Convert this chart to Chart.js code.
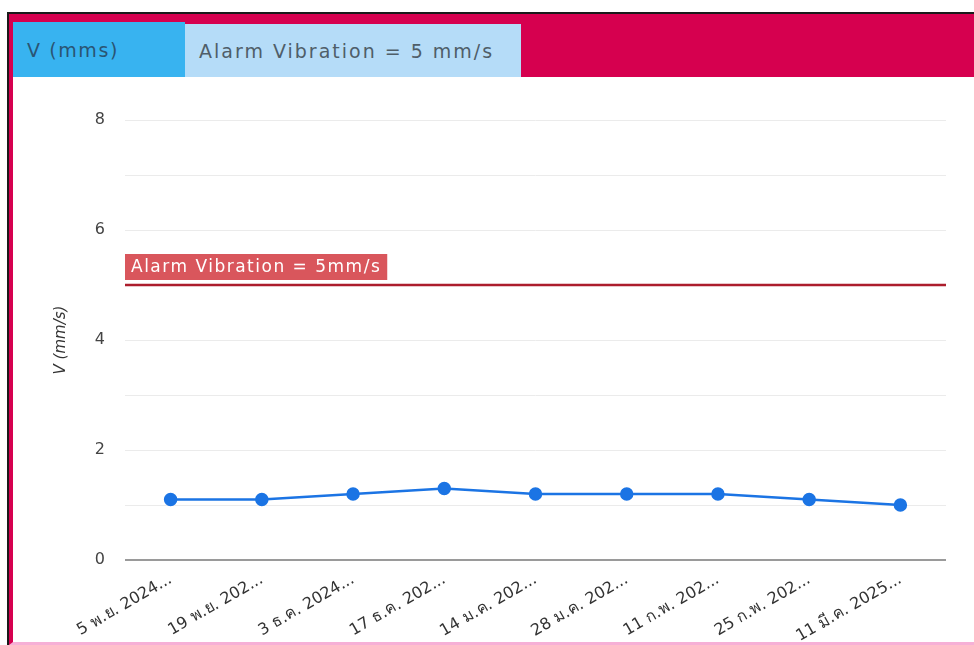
<!DOCTYPE html>
<html>
<head>
<meta charset="utf-8">
<script src="https://cdn.jsdelivr.net/npm/chart.js@4"></script>
<style>
  html, body { margin: 0; padding: 0; background: #fff; }
  body { width: 974px; height: 645px; position: relative; overflow: hidden; font-family: "DejaVu Sans", "Open Sans", sans-serif; }
  .frame { position: absolute; left: 7px; top: 12px; right: 0; bottom: 0; border-left: 2px solid #1a1a1a; border-top: 2px solid #1a1a1a; }
  .panel { position: absolute; left: 0; top: 0; right: 0; bottom: 0; border-left: 4px solid #d6004f; border-bottom: 3px solid #f6b0d6; box-sizing: border-box; }
  .head { position: absolute; left: 0; top: 0; right: 0; height: 63px; background: #d6004f; }
  .tab { position: absolute; bottom: 0; box-sizing: border-box; padding-left: 14px; color: #4f5e69; font-size: 19px; letter-spacing: 2px; display: flex; align-items: center; }
  .tab1 { left: 0; width: 172px; height: 55px; background: #38b3f0; color: #2a5574; letter-spacing: 1.6px; }
  .tab2 { left: 172px; width: 336px; height: 53px; background: #b5dcf8; }
  .chartbox { position: absolute; left: 0; top: 63px; width: 961px; height: 564px; }
</style>
</head>
<body>
<div class="frame">
  <div class="panel">
    <div class="head">
      <div class="tab tab1">V (mms)</div>
      <div class="tab tab2">Alarm Vibration = 5 mm/s</div>
    </div>
    <div class="chartbox"><canvas id="c" width="961" height="564"></canvas></div>
  </div>
</div>
<script>
// Measurement dates (truncated labels as shown on the axis)
const dateLabels = [
  "5 พ.ย. 2024...", "19 พ.ย. 202...", "3 ธ.ค. 2024...", "17 ธ.ค. 202...",
  "14 ม.ค. 202...", "28 ม.ค. 202...", "11 ก.พ. 202...", "25 ก.พ. 202...", "11 มี.ค. 2025..."
];
// Vibration velocity, mm/s
const velocity = [1.1, 1.1, 1.2, 1.3, 1.2, 1.2, 1.2, 1.1, 1.0];
// Alarm threshold, mm/s
const alarmLevel = 5;
const alarmText = "Alarm Vibration = 5mm/s";
// Y axis range
const yMin = 0, yMax = 8;

const FONT = '"DejaVu Sans", "Open Sans", sans-serif';

const alarmLine = {
  id: 'alarmLine',
  beforeDatasetsDraw(chart) {
    const { ctx, chartArea, scales } = chart;
    const y = scales.y.getPixelForValue(alarmLevel);
    ctx.save();
    ctx.strokeStyle = '#ac1d2c';
    ctx.lineWidth = 2.5;
    ctx.beginPath();
    ctx.moveTo(chartArea.left, y);
    ctx.lineTo(chartArea.right, y);
    ctx.stroke();
    ctx.font = '17px ' + FONT;
    ctx.letterSpacing = '1.5px';
    const w = ctx.measureText(alarmText).width + 12;
    const h = 26;
    ctx.fillStyle = '#d9565c';
    ctx.fillRect(chartArea.left, y - 5 - h, w, h);
    ctx.fillStyle = '#ffffff';
    ctx.textBaseline = 'middle';
    ctx.fillText(alarmText, chartArea.left + 6, y - 5 - h / 2 + 1);
    ctx.restore();
  }
};

new Chart(document.getElementById('c'), {
  type: 'line',
  data: {
    labels: dateLabels,
    datasets: [{
      label: 'V (mms)',
      data: velocity,
      borderColor: '#1b74e4',
      backgroundColor: '#1b74e4',
      borderWidth: 2.5,
      pointRadius: 5.5,
      pointHoverRadius: 6,
      tension: 0
    }]
  },
  options: {
    responsive: false,
    animation: false,
    layout: { padding: { top: 43, right: 28, left: 39, bottom: 0 } },
    plugins: { legend: { display: false }, tooltip: { enabled: false } },
    scales: {
      x: {
        offset: true,
        grid: { display: false },
        border: { display: false },
        ticks: {
          color: '#333',
          font: { family: FONT, size: 16 },
          maxRotation: 30, minRotation: 30, autoSkip: false, padding: 2
        },
        afterFit(scale) { scale.height = 81; }
      },
      y: {
        min: yMin, max: yMax,
        border: { display: false },
        grid: {
          drawTicks: false,
          color: c => c.tick && c.tick.value === 0 ? '#9a9a9a' : '#ebebeb',
          lineWidth: c => c.tick && c.tick.value === 0 ? 2 : 1
        },
        ticks: {
          stepSize: 1,
          padding: 20,
          color: '#444',
          font: { family: FONT, size: 16 },
          callback: v => (v % 2 === 0 ? v : '')
        },
        title: {
          display: true,
          text: 'V (mm/s)',
          color: '#333',
          font: { family: FONT, size: 15, style: 'italic' },
          padding: { top: 0, bottom: 0 }
        },
        afterFit(scale) { scale.width = 73; }
      }
    }
  },
  plugins: [alarmLine]
});
</script>
</body>
</html>
